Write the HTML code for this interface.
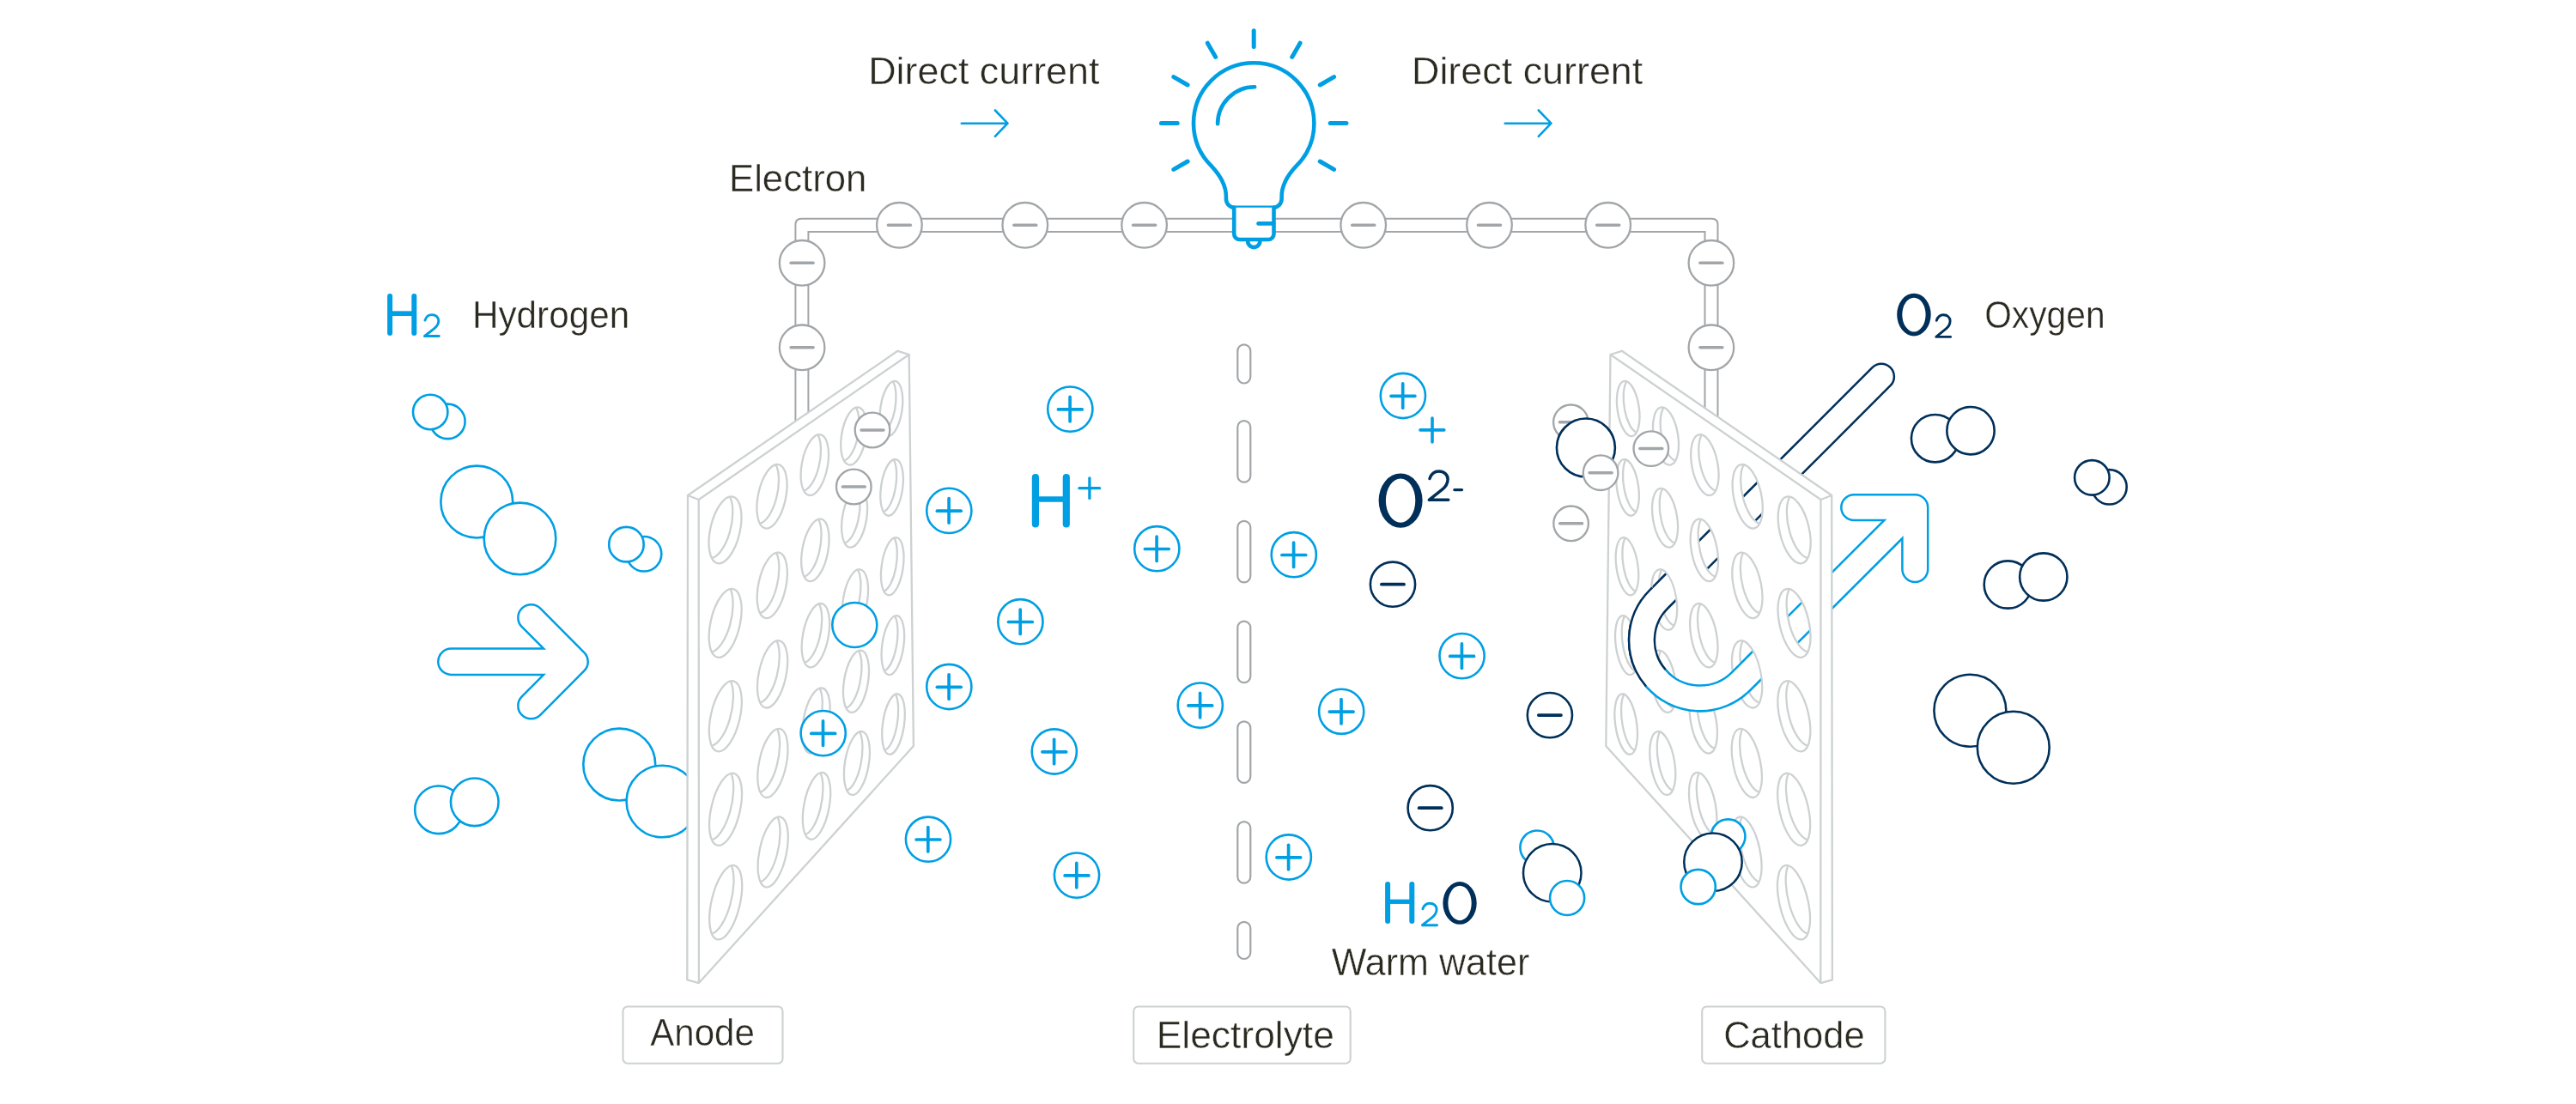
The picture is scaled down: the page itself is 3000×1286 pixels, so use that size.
<!DOCTYPE html>
<html><head><meta charset="utf-8"><title>Fuel cell</title>
<style>html,body{margin:0;padding:0;background:#fff;overflow:hidden;}svg{display:block;will-change:transform;}text{font-family:"Liberation Sans",sans-serif;}</style>
</head><body>
<svg width="3000" height="1286" viewBox="0 0 3000 1286">
<defs><mask id="cmask" maskUnits="userSpaceOnUse" x="0" y="0" width="3000" height="1286"><rect x="0" y="0" width="3000" height="1286" fill="#fff"/><polygon fill="#000" points="2084.24,579.68 2085.37,580.01 2086.53,580.5 2087.7,581.14 2088.87,581.95 2090.05,582.9 2091.23,584 2092.4,585.25 2093.56,586.63 2094.71,588.14 2095.83,589.78 2096.93,591.54 2097.99,593.41 2099.02,595.38 2100.01,597.44 2100.96,599.59 2101.85,601.82 2102.7,604.11 2103.49,606.46 2104.22,608.86 2104.89,611.29 2105.49,613.75 2106.03,616.23 2106.49,618.71 2106.89,621.19 2107.21,623.64 2107.45,626.08 2107.62,628.47 2107.72,630.82 2107.73,633.11 2107.67,635.33 2107.53,637.48 2107.32,639.54 2107.03,641.5 2106.66,643.36 2106.23,645.12 2105.72,646.75 2105.14,648.25 2104.5,649.63 2104.44,649.73 2104.14,649.65 2102.92,649.15 2101.68,648.5 2100.44,647.68 2099.2,646.71 2097.96,645.59 2096.73,644.32 2095.51,642.91 2094.31,641.36 2093.13,639.69 2091.98,637.89 2090.87,635.98 2089.79,633.96 2088.76,631.85 2087.77,629.64 2086.84,627.36 2085.96,625.01 2085.14,622.6 2084.39,620.15 2083.7,617.65 2083.08,615.13 2082.53,612.59 2082.05,610.04 2081.66,607.5 2081.34,604.98 2081.09,602.48 2080.93,600.02 2080.85,597.61 2080.86,595.25 2080.94,592.97 2081.1,590.76 2081.35,588.65 2081.67,586.62 2082.07,584.71 2082.55,582.9 2083.1,581.22 2083.72,579.67 2083.75,579.61"/><polygon fill="#000" points="2083.79,687.06 2084.92,687.41 2086.07,687.92 2087.23,688.59 2088.41,689.43 2089.59,690.42 2090.77,691.56 2091.94,692.85 2093.11,694.27 2094.26,695.84 2095.39,697.53 2096.49,699.35 2097.56,701.27 2098.6,703.31 2099.6,705.43 2100.56,707.65 2101.47,709.95 2102.33,712.31 2103.13,714.73 2103.88,717.2 2104.56,719.7 2105.18,722.24 2105.73,724.78 2106.22,727.33 2106.63,729.88 2106.97,732.41 2107.23,734.91 2107.42,737.37 2107.53,739.78 2107.57,742.13 2107.52,744.42 2107.4,746.62 2107.21,748.73 2106.93,750.75 2106.59,752.66 2106.17,754.45 2105.68,756.13 2105.12,757.67 2104.49,759.08 2104.44,759.16 2104.13,759.06 2102.91,758.55 2101.68,757.87 2100.44,757.02 2099.2,756.01 2097.96,754.85 2096.72,753.54 2095.5,752.08 2094.29,750.48 2093.11,748.75 2091.96,746.9 2090.83,744.93 2089.75,742.85 2088.71,740.67 2087.71,738.4 2086.76,736.05 2085.87,733.63 2085.04,731.16 2084.27,728.63 2083.56,726.06 2082.93,723.46 2082.36,720.85 2081.87,718.24 2081.45,715.62 2081.11,713.03 2080.85,710.47 2080.68,707.94 2080.58,705.46 2080.56,703.05 2080.62,700.7 2080.77,698.44 2080.99,696.27 2081.3,694.19 2081.68,692.23 2082.14,690.38 2082.68,688.66 2083.28,687.07 2083.32,686.99"/><polygon fill="#000" points="2083.34,794.44 2084.46,794.81 2085.61,795.34 2086.77,796.04 2087.94,796.91 2089.12,797.93 2090.31,799.11 2091.48,800.45 2092.65,801.92 2093.8,803.54 2094.94,805.28 2096.05,807.15 2097.13,809.14 2098.18,811.24 2099.19,813.43 2100.16,815.71 2101.08,818.08 2101.95,820.51 2102.77,823 2103.53,825.54 2104.23,828.11 2104.86,830.72 2105.43,833.34 2105.93,835.96 2106.36,838.58 2106.72,841.17 2107,843.74 2107.21,846.27 2107.34,848.75 2107.39,851.16 2107.37,853.5 2107.27,855.76 2107.09,857.93 2106.84,860 2106.51,861.95 2106.11,863.79 2105.63,865.51 2105.09,867.08 2104.48,868.52 2104.45,868.58 2104.12,868.48 2102.91,867.95 2101.68,867.24 2100.44,866.36 2099.2,865.32 2097.96,864.11 2096.72,862.76 2095.49,861.25 2094.28,859.6 2093.09,857.82 2091.93,855.91 2090.8,853.88 2089.71,851.74 2088.65,849.5 2087.65,847.16 2086.69,844.74 2085.78,842.26 2084.94,839.71 2084.15,837.11 2083.43,834.47 2082.78,831.8 2082.19,829.12 2081.69,826.43 2081.25,823.75 2080.89,821.09 2080.62,818.45 2080.42,815.86 2080.3,813.32 2080.26,810.84 2080.31,808.44 2080.44,806.12 2080.64,803.89 2080.93,801.77 2081.29,799.75 2081.74,797.86 2082.25,796.1 2082.84,794.48 2082.89,794.37"/><polygon fill="#000" points="2082.88,901.83 2084,902.21 2085.15,902.77 2086.31,903.5 2087.48,904.39 2088.66,905.45 2089.84,906.67 2091.02,908.05 2092.19,909.57 2093.34,911.24 2094.48,913.04 2095.6,914.96 2096.69,917.01 2097.75,919.17 2098.77,921.43 2099.75,923.78 2100.68,926.21 2101.57,928.71 2102.4,931.27 2103.17,933.88 2103.89,936.53 2104.54,939.2 2105.13,941.89 2105.65,944.59 2106.09,947.27 2106.47,949.94 2106.77,952.58 2107,955.17 2107.14,957.71 2107.22,960.19 2107.21,962.59 2107.13,964.91 2106.97,967.13 2106.74,969.25 2106.43,971.25 2106.04,973.13 2105.59,974.89 2105.06,976.5 2104.46,977.97 2104.44,978.01 2104.1,977.9 2102.9,977.34 2101.67,976.6 2100.44,975.7 2099.2,974.62 2097.95,973.38 2096.71,971.98 2095.48,970.42 2094.27,968.73 2093.08,966.89 2091.91,964.92 2090.77,962.83 2089.67,960.63 2088.6,958.32 2087.58,955.92 2086.61,953.43 2085.7,950.88 2084.83,948.26 2084.03,945.59 2083.3,942.87 2082.63,940.14 2082.03,937.38 2081.5,934.62 2081.05,931.87 2080.68,929.14 2080.38,926.44 2080.16,923.78 2080.03,921.17 2079.97,918.63 2080,916.17 2080.1,913.79 2080.29,911.51 2080.56,909.34 2080.91,907.28 2081.33,905.34 2081.83,903.54 2082.4,901.88 2082.46,901.75"/><polygon fill="#000" points="2082.43,1009.21 2083.55,1009.61 2084.68,1010.19 2085.84,1010.95 2087.01,1011.88 2088.19,1012.97 2089.37,1014.23 2090.55,1015.65 2091.72,1017.22 2092.88,1018.94 2094.03,1020.79 2095.15,1022.78 2096.25,1024.88 2097.31,1027.1 2098.34,1029.42 2099.33,1031.84 2100.28,1034.34 2101.18,1036.91 2102.02,1039.54 2102.81,1042.22 2103.54,1044.94 2104.21,1047.69 2104.82,1050.45 2105.35,1053.21 2105.82,1055.97 2106.21,1058.71 2106.53,1061.41 2106.78,1064.07 2106.94,1066.68 2107.04,1069.22 2107.05,1071.68 2106.99,1074.05 2106.85,1076.33 2106.63,1078.5 2106.34,1080.55 2105.97,1082.47 2105.54,1084.27 2105.03,1085.92 2104.45,1087.42 2104.44,1087.44 2104.09,1087.32 2102.89,1086.74 2101.67,1085.97 2100.43,1085.03 2099.19,1083.92 2097.95,1082.64 2096.71,1081.19 2095.48,1079.59 2094.26,1077.85 2093.06,1075.95 2091.88,1073.93 2090.74,1071.78 2089.63,1069.52 2088.55,1067.14 2087.52,1064.68 2086.54,1062.12 2085.61,1059.5 2084.73,1056.81 2083.92,1054.06 2083.17,1051.28 2082.48,1048.47 2081.87,1045.65 2081.32,1042.82 2080.85,1039.99 2080.46,1037.19 2080.14,1034.42 2079.91,1031.7 2079.75,1029.03 2079.68,1026.43 2079.68,1023.9 2079.77,1021.47 2079.94,1019.13 2080.19,1016.91 2080.52,1014.8 2080.92,1012.83 2081.41,1010.98 2081.96,1009.29 2082.03,1009.13"/><polygon fill="#000" points="2030.68,542.22 2031.74,542.56 2032.81,543.05 2033.89,543.69 2034.98,544.49 2036.06,545.42 2037.15,546.5 2038.22,547.72 2039.29,549.06 2040.33,550.53 2041.36,552.12 2042.35,553.82 2043.32,555.63 2044.25,557.53 2045.15,559.52 2046,561.6 2046.8,563.74 2047.56,565.95 2048.26,568.21 2048.9,570.51 2049.49,572.85 2050.02,575.2 2050.48,577.58 2050.88,579.95 2051.21,582.32 2051.47,584.67 2051.66,587 2051.78,589.28 2051.83,591.52 2051.81,593.71 2051.72,595.82 2051.56,597.87 2051.32,599.82 2051.02,601.69 2050.65,603.46 2050.22,605.12 2049.72,606.66 2049.15,608.08 2048.53,609.38 2048.46,609.49 2048.23,609.42 2047.09,608.92 2045.94,608.26 2044.79,607.46 2043.64,606.5 2042.5,605.4 2041.36,604.16 2040.24,602.78 2039.14,601.28 2038.06,599.65 2037.01,597.91 2036,596.06 2035.02,594.11 2034.08,592.07 2033.19,589.94 2032.36,587.74 2031.57,585.48 2030.84,583.16 2030.17,580.8 2029.56,578.4 2029.02,575.97 2028.55,573.54 2028.14,571.1 2027.81,568.66 2027.55,566.25 2027.37,563.86 2027.25,561.51 2027.22,559.2 2027.26,556.96 2027.37,554.78 2027.56,552.67 2027.82,550.66 2028.16,548.74 2028.57,546.92 2029.04,545.21 2029.59,543.62 2030.2,542.15 2030.21,542.13"/><polygon fill="#000" points="2030.17,644.83 2031.22,645.19 2032.29,645.7 2033.37,646.37 2034.46,647.19 2035.55,648.15 2036.63,649.26 2037.71,650.52 2038.78,651.9 2039.83,653.41 2040.86,655.05 2041.86,656.8 2042.83,658.65 2043.77,660.61 2044.67,662.66 2045.53,664.78 2046.35,666.99 2047.11,669.25 2047.83,671.57 2048.48,673.93 2049.08,676.33 2049.62,678.75 2050.1,681.18 2050.51,683.62 2050.85,686.05 2051.12,688.46 2051.33,690.84 2051.47,693.18 2051.53,695.48 2051.52,697.71 2051.45,699.88 2051.3,701.97 2051.08,703.98 2050.79,705.89 2050.43,707.69 2050.01,709.39 2049.52,710.97 2048.97,712.42 2048.36,713.74 2048.31,713.84 2048.06,713.76 2046.92,713.24 2045.78,712.57 2044.63,711.73 2043.48,710.75 2042.33,709.61 2041.19,708.34 2040.07,706.92 2038.96,705.37 2037.88,703.7 2036.83,701.91 2035.8,700.01 2034.82,698.01 2033.88,695.91 2032.98,693.73 2032.13,691.47 2031.33,689.15 2030.59,686.77 2029.91,684.35 2029.29,681.89 2028.74,679.41 2028.25,676.91 2027.83,674.41 2027.49,671.91 2027.21,669.44 2027.01,666.99 2026.89,664.58 2026.84,662.22 2026.86,659.92 2026.96,657.69 2027.14,655.54 2027.39,653.48 2027.71,651.52 2028.1,649.66 2028.57,647.91 2029.1,646.28 2029.7,644.78 2029.72,644.75"/><polygon fill="#000" points="2029.66,747.45 2030.71,747.82 2031.78,748.35 2032.85,749.04 2033.94,749.89 2035.03,750.88 2036.12,752.03 2037.2,753.32 2038.27,754.74 2039.32,756.3 2040.35,757.98 2041.36,759.77 2042.34,761.68 2043.29,763.69 2044.2,765.79 2045.07,767.97 2045.89,770.23 2046.67,772.56 2047.39,774.93 2048.06,777.36 2048.67,779.81 2049.22,782.3 2049.71,784.79 2050.13,787.29 2050.49,789.77 2050.78,792.24 2051,794.68 2051.15,797.08 2051.23,799.43 2051.23,801.72 2051.17,803.94 2051.04,806.08 2050.83,808.13 2050.56,810.09 2050.21,811.93 2049.8,813.67 2049.33,815.28 2048.79,816.76 2048.19,818.11 2048.15,818.19 2047.89,818.11 2046.76,817.57 2045.61,816.87 2044.46,816.01 2043.31,814.99 2042.16,813.83 2041.02,812.51 2039.9,811.06 2038.79,809.47 2037.7,807.75 2036.64,805.91 2035.61,803.96 2034.62,801.91 2033.67,799.76 2032.76,797.52 2031.9,795.2 2031.1,792.82 2030.34,790.39 2029.65,787.9 2029.02,785.38 2028.45,782.84 2027.95,780.28 2027.52,777.72 2027.16,775.16 2026.88,772.63 2026.66,770.12 2026.52,767.66 2026.46,765.25 2026.47,762.89 2026.55,760.61 2026.72,758.41 2026.95,756.3 2027.26,754.3 2027.64,752.39 2028.09,750.61 2028.61,748.95 2029.19,747.42 2029.22,747.36"/><polygon fill="#000" points="2029.15,850.07 2030.19,850.45 2031.26,851 2032.33,851.72 2033.42,852.59 2034.51,853.61 2035.6,854.79 2036.68,856.12 2037.75,857.58 2038.81,859.18 2039.85,860.9 2040.86,862.75 2041.85,864.71 2042.8,866.77 2043.72,868.92 2044.6,871.16 2045.43,873.48 2046.22,875.86 2046.95,878.3 2047.63,880.78 2048.25,883.3 2048.82,885.84 2049.32,888.4 2049.76,890.95 2050.13,893.5 2050.43,896.03 2050.66,898.53 2050.83,900.98 2050.92,903.39 2050.94,905.73 2050.89,908 2050.77,910.19 2050.58,912.29 2050.32,914.28 2049.99,916.17 2049.6,917.94 2049.13,919.59 2048.61,921.1 2048.02,922.48 2047.99,922.55 2047.72,922.45 2046.59,921.9 2045.45,921.17 2044.3,920.29 2043.15,919.24 2042,918.04 2040.85,916.69 2039.72,915.2 2038.61,913.56 2037.52,911.8 2036.45,909.92 2035.42,907.91 2034.42,905.81 2033.46,903.6 2032.54,901.31 2031.68,898.94 2030.86,896.5 2030.1,894 2029.39,891.45 2028.75,888.87 2028.17,886.27 2027.66,883.65 2027.21,881.03 2026.84,878.41 2026.54,875.82 2026.31,873.26 2026.16,870.74 2026.08,868.27 2026.08,865.86 2026.15,863.53 2026.29,861.28 2026.51,859.13 2026.81,857.07 2027.18,855.13 2027.61,853.31 2028.12,851.62 2028.69,850.06 2028.73,849.98"/><polygon fill="#000" points="2028.64,952.68 2029.68,953.09 2030.74,953.65 2031.81,954.39 2032.9,955.29 2033.99,956.34 2035.08,957.56 2036.16,958.92 2037.24,960.42 2038.3,962.06 2039.34,963.83 2040.36,965.73 2041.35,967.73 2042.31,969.85 2043.24,972.05 2044.12,974.35 2044.97,976.73 2045.76,979.17 2046.51,981.66 2047.2,984.21 2047.83,986.79 2048.41,989.39 2048.93,992.01 2049.38,994.62 2049.76,997.23 2050.08,999.82 2050.33,1002.37 2050.5,1004.89 2050.61,1007.34 2050.65,1009.74 2050.61,1012.06 2050.51,1014.3 2050.33,1016.44 2050.08,1018.48 2049.77,1020.41 2049.39,1022.22 2048.94,1023.9 2048.42,1025.44 2047.85,1026.85 2047.82,1026.9 2047.54,1026.8 2046.42,1026.22 2045.28,1025.48 2044.13,1024.56 2042.98,1023.49 2041.83,1022.25 2040.69,1020.87 2039.55,1019.33 2038.44,1017.66 2037.34,1015.85 2036.27,1013.92 2035.23,1011.86 2034.22,1009.7 2033.25,1007.44 2032.33,1005.1 2031.45,1002.67 2030.62,1000.17 2029.85,997.61 2029.14,995.01 2028.48,992.36 2027.89,989.7 2027.36,987.02 2026.91,984.34 2026.52,981.66 2026.2,979.01 2025.96,976.39 2025.79,973.81 2025.7,971.29 2025.68,968.83 2025.74,966.45 2025.87,964.15 2026.08,961.95 2026.36,959.85 2026.71,957.87 2027.14,956.01 2027.63,954.28 2028.19,952.69 2028.23,952.59"/><polygon fill="#000" points="1981.73,507.44 1982.71,507.79 1983.69,508.28 1984.68,508.91 1985.68,509.68 1986.68,510.59 1987.67,511.63 1988.65,512.8 1989.61,514.09 1990.56,515.5 1991.49,517.02 1992.39,518.65 1993.26,520.37 1994.09,522.19 1994.89,524.09 1995.65,526.07 1996.37,528.11 1997.03,530.21 1997.65,532.35 1998.22,534.54 1998.73,536.76 1999.18,539 1999.58,541.25 1999.91,543.5 2000.18,545.74 2000.39,547.96 2000.53,550.16 2000.61,552.32 2000.63,554.44 2000.58,556.5 2000.46,558.49 2000.28,560.42 2000.04,562.26 1999.73,564.02 1999.36,565.68 1998.93,567.23 1998.45,568.68 1997.9,570.01 1997.31,571.22 1997.23,571.35 1997.06,571.29 1996.01,570.8 1994.96,570.15 1993.9,569.37 1992.84,568.44 1991.79,567.37 1990.75,566.18 1989.72,564.85 1988.72,563.41 1987.74,561.85 1986.79,560.18 1985.87,558.41 1984.99,556.54 1984.15,554.59 1983.36,552.56 1982.61,550.47 1981.91,548.31 1981.27,546.1 1980.68,543.85 1980.15,541.57 1979.68,539.27 1979.28,536.96 1978.94,534.64 1978.66,532.33 1978.46,530.04 1978.32,527.78 1978.25,525.56 1978.25,523.38 1978.32,521.25 1978.46,519.2 1978.67,517.21 1978.95,515.31 1979.29,513.5 1979.7,511.79 1980.17,510.18 1980.7,508.69 1981.27,507.35"/><polygon fill="#000" points="1981,605.86 1981.97,606.22 1982.95,606.73 1983.95,607.38 1984.94,608.17 1985.94,609.11 1986.93,610.18 1987.91,611.39 1988.88,612.72 1989.84,614.17 1990.77,615.74 1991.67,617.41 1992.55,619.18 1993.39,621.05 1994.2,623 1994.96,625.03 1995.69,627.13 1996.36,629.29 1996.99,631.49 1997.57,633.74 1998.09,636.01 1998.55,638.31 1998.96,640.62 1999.3,642.93 1999.59,645.23 1999.81,647.51 1999.96,649.77 2000.06,651.98 2000.08,654.15 2000.04,656.26 1999.94,658.31 1999.77,660.28 1999.54,662.17 1999.24,663.97 1998.89,665.67 1998.47,667.26 1997.99,668.74 1997.46,670.1 1996.88,671.33 1996.81,671.45 1996.63,671.39 1995.58,670.87 1994.53,670.21 1993.47,669.4 1992.41,668.44 1991.35,667.34 1990.31,666.11 1989.29,664.75 1988.28,663.26 1987.3,661.66 1986.34,659.94 1985.42,658.12 1984.53,656.21 1983.68,654.2 1982.88,652.12 1982.12,649.97 1981.41,647.76 1980.76,645.49 1980.16,643.18 1979.62,640.84 1979.14,638.48 1978.73,636.11 1978.37,633.73 1978.09,631.37 1977.87,629.02 1977.72,626.7 1977.64,624.42 1977.63,622.19 1977.69,620.01 1977.82,617.91 1978.01,615.88 1978.28,613.93 1978.61,612.08 1979,610.33 1979.46,608.68 1979.98,607.16 1980.56,605.76"/><polygon fill="#000" points="1980.26,704.28 1981.23,704.65 1982.22,705.17 1983.21,705.85 1984.2,706.67 1985.2,707.64 1986.19,708.74 1987.18,709.98 1988.15,711.35 1989.11,712.84 1990.04,714.45 1990.95,716.17 1991.84,718 1992.69,719.91 1993.5,721.92 1994.27,724 1995.01,726.15 1995.69,728.37 1996.33,730.63 1996.92,732.93 1997.45,735.27 1997.92,737.63 1998.34,739.99 1998.7,742.36 1998.99,744.72 1999.22,747.06 1999.39,749.37 1999.5,751.64 1999.54,753.86 1999.51,756.03 1999.42,758.12 1999.26,760.14 1999.04,762.08 1998.76,763.92 1998.41,765.66 1998.01,767.28 1997.54,768.8 1997.02,770.19 1996.45,771.45 1996.39,771.55 1996.2,771.48 1995.15,770.95 1994.1,770.26 1993.04,769.43 1991.98,768.44 1990.92,767.31 1989.88,766.05 1988.85,764.64 1987.84,763.12 1986.85,761.47 1985.89,759.71 1984.96,757.84 1984.07,755.87 1983.21,753.82 1982.4,751.68 1981.63,749.47 1980.92,747.2 1980.25,744.88 1979.64,742.51 1979.09,740.11 1978.6,737.69 1978.18,735.26 1977.81,732.83 1977.52,730.4 1977.29,728 1977.13,725.62 1977.03,723.29 1977.01,721 1977.06,718.77 1977.17,716.62 1977.35,714.54 1977.61,712.55 1977.92,710.65 1978.31,708.86 1978.76,707.18 1979.27,705.62 1979.84,704.19 1979.84,704.18"/><polygon fill="#000" points="1979.53,802.69 1980.5,803.08 1981.48,803.62 1982.47,804.32 1983.46,805.17 1984.46,806.16 1985.46,807.3 1986.44,808.57 1987.42,809.98 1988.38,811.52 1989.32,813.17 1990.23,814.93 1991.12,816.81 1991.98,818.78 1992.8,820.83 1993.58,822.97 1994.32,825.18 1995.02,827.45 1995.66,829.77 1996.26,832.13 1996.8,834.53 1997.29,836.94 1997.72,839.37 1998.09,841.8 1998.39,844.21 1998.64,846.61 1998.82,848.98 1998.94,851.3 1998.99,853.58 1998.97,855.79 1998.89,857.94 1998.75,860.01 1998.54,861.98 1998.27,863.87 1997.94,865.65 1997.54,867.31 1997.09,868.86 1996.58,870.28 1996.01,871.57 1995.97,871.65 1995.77,871.58 1994.72,871.03 1993.66,870.32 1992.61,869.46 1991.55,868.44 1990.49,867.28 1989.44,865.98 1988.41,864.54 1987.4,862.97 1986.4,861.28 1985.44,859.47 1984.5,857.55 1983.6,855.54 1982.74,853.43 1981.92,851.24 1981.15,848.97 1980.42,846.65 1979.75,844.26 1979.13,841.84 1978.57,839.38 1978.07,836.9 1977.63,834.41 1977.25,831.92 1976.94,829.44 1976.7,826.97 1976.53,824.54 1976.42,822.15 1976.39,819.81 1976.42,817.54 1976.52,815.33 1976.7,813.2 1976.94,811.17 1977.24,809.23 1977.61,807.4 1978.05,805.68 1978.55,804.09 1979.11,802.62 1979.12,802.59"/><polygon fill="#000" points="1978.8,901.11 1979.76,901.51 1980.74,902.07 1981.73,902.79 1982.72,903.66 1983.72,904.69 1984.72,905.86 1985.71,907.17 1986.68,908.61 1987.65,910.19 1988.59,911.89 1989.51,913.7 1990.41,915.62 1991.27,917.64 1992.1,919.75 1992.89,921.94 1993.64,924.2 1994.34,926.53 1995,928.91 1995.6,931.33 1996.16,933.78 1996.65,936.26 1997.09,938.74 1997.47,941.23 1997.79,943.7 1998.05,946.16 1998.24,948.58 1998.37,950.96 1998.44,953.29 1998.43,955.56 1998.37,957.75 1998.24,959.87 1998.04,961.89 1997.78,963.82 1997.46,965.64 1997.07,967.34 1996.63,968.92 1996.13,970.37 1995.58,971.69 1995.54,971.75 1995.33,971.67 1994.29,971.1 1993.23,970.37 1992.17,969.48 1991.11,968.44 1990.06,967.25 1989.01,965.91 1987.97,964.43 1986.96,962.82 1985.96,961.09 1984.99,959.23 1984.05,957.27 1983.14,955.2 1982.27,953.04 1981.44,950.79 1980.66,948.47 1979.92,946.09 1979.24,943.65 1978.61,941.17 1978.04,938.65 1977.53,936.11 1977.08,933.56 1976.69,931.01 1976.37,928.47 1976.12,925.95 1975.93,923.46 1975.82,921.02 1975.77,918.63 1975.79,916.3 1975.88,914.04 1976.04,911.87 1976.27,909.79 1976.56,907.81 1976.92,905.93 1977.35,904.18 1977.83,902.55 1978.38,901.06 1978.4,901.01"/><polygon fill="#000" points="1937.31,475.68 1938.21,476.02 1939.12,476.51 1940.04,477.13 1940.96,477.88 1941.87,478.76 1942.78,479.77 1943.67,480.89 1944.55,482.14 1945.41,483.49 1946.24,484.95 1947.05,486.51 1947.83,488.16 1948.57,489.89 1949.28,491.7 1949.95,493.59 1950.57,495.53 1951.15,497.53 1951.68,499.57 1952.17,501.65 1952.6,503.75 1952.97,505.88 1953.29,508.01 1953.56,510.14 1953.76,512.26 1953.91,514.37 1954,516.45 1954.02,518.49 1953.99,520.48 1953.9,522.43 1953.75,524.31 1953.54,526.12 1953.27,527.85 1952.94,529.5 1952.56,531.06 1952.12,532.52 1951.64,533.87 1951.1,535.11 1950.52,536.24 1950.42,536.39 1950.32,536.35 1949.34,535.86 1948.36,535.22 1947.38,534.45 1946.4,533.55 1945.44,532.52 1944.48,531.36 1943.55,530.09 1942.64,528.7 1941.75,527.2 1940.89,525.6 1940.07,523.9 1939.28,522.12 1938.54,520.25 1937.83,518.32 1937.17,516.32 1936.56,514.26 1936.01,512.16 1935.5,510.02 1935.06,507.85 1934.67,505.66 1934.34,503.47 1934.07,501.27 1933.87,499.08 1933.72,496.91 1933.64,494.77 1933.63,492.66 1933.68,490.6 1933.79,488.6 1933.97,486.65 1934.21,484.78 1934.51,482.99 1934.88,481.29 1935.3,479.68 1935.77,478.17 1936.31,476.77 1936.86,475.57"/><polygon fill="#000" points="1936.23,570.09 1937.14,570.45 1938.05,570.95 1938.97,571.59 1939.88,572.37 1940.8,573.28 1941.71,574.31 1942.6,575.47 1943.48,576.75 1944.34,578.15 1945.18,579.65 1945.99,581.25 1946.78,582.94 1947.53,584.72 1948.24,586.59 1948.92,588.52 1949.55,590.51 1950.14,592.57 1950.68,594.66 1951.17,596.79 1951.61,598.96 1951.99,601.13 1952.32,603.32 1952.6,605.51 1952.81,607.69 1952.97,609.85 1953.06,611.98 1953.1,614.07 1953.08,616.12 1953,618.11 1952.85,620.04 1952.65,621.9 1952.39,623.67 1952.07,625.36 1951.7,626.96 1951.28,628.45 1950.8,629.84 1950.27,631.11 1949.69,632.26 1949.61,632.39 1949.49,632.35 1948.51,631.84 1947.53,631.18 1946.55,630.39 1945.58,629.46 1944.61,628.4 1943.65,627.21 1942.72,625.9 1941.8,624.47 1940.91,622.93 1940.05,621.29 1939.22,619.54 1938.43,617.71 1937.67,615.8 1936.96,613.81 1936.3,611.76 1935.68,609.65 1935.11,607.49 1934.6,605.3 1934.15,603.07 1933.75,600.83 1933.41,598.58 1933.13,596.32 1932.92,594.08 1932.77,591.86 1932.68,589.66 1932.65,587.5 1932.69,585.39 1932.8,583.34 1932.97,581.35 1933.2,579.43 1933.49,577.6 1933.84,575.86 1934.25,574.21 1934.72,572.67 1935.25,571.24 1935.8,569.98"/><polygon fill="#000" points="1935.16,664.51 1936.06,664.88 1936.97,665.4 1937.89,666.06 1938.81,666.86 1939.72,667.79 1940.63,668.86 1941.53,670.05 1942.41,671.37 1943.28,672.8 1944.12,674.34 1944.94,675.99 1945.73,677.73 1946.48,679.56 1947.2,681.47 1947.88,683.45 1948.52,685.5 1949.12,687.6 1949.67,689.75 1950.17,691.94 1950.62,694.16 1951.01,696.39 1951.35,698.64 1951.63,700.88 1951.86,703.11 1952.02,705.33 1952.13,707.51 1952.18,709.66 1952.16,711.76 1952.09,713.8 1951.96,715.77 1951.77,717.67 1951.52,719.49 1951.21,721.22 1950.84,722.85 1950.43,724.38 1949.96,725.8 1949.44,727.1 1948.87,728.28 1948.8,728.4 1948.67,728.34 1947.69,727.82 1946.71,727.14 1945.73,726.33 1944.75,725.37 1943.78,724.28 1942.83,723.06 1941.89,721.71 1940.97,720.24 1940.07,718.66 1939.2,716.97 1938.37,715.19 1937.57,713.31 1936.81,711.34 1936.09,709.31 1935.42,707.2 1934.8,705.04 1934.22,702.83 1933.7,700.58 1933.24,698.3 1932.83,696 1932.48,693.69 1932.2,691.38 1931.97,689.08 1931.81,686.8 1931.71,684.55 1931.68,682.34 1931.71,680.18 1931.8,678.08 1931.96,676.04 1932.18,674.08 1932.46,672.21 1932.81,670.42 1933.21,668.74 1933.67,667.16 1934.19,665.7 1934.74,664.4"/><polygon fill="#000" points="1934.09,758.92 1934.99,759.31 1935.9,759.85 1936.81,760.53 1937.73,761.35 1938.65,762.31 1939.56,763.41 1940.46,764.63 1941.34,765.98 1942.21,767.45 1943.06,769.04 1943.88,770.72 1944.68,772.51 1945.44,774.39 1946.16,776.35 1946.85,778.38 1947.5,780.48 1948.1,782.64 1948.66,784.85 1949.17,787.09 1949.62,789.36 1950.03,791.65 1950.37,793.95 1950.67,796.25 1950.9,798.54 1951.08,800.81 1951.19,803.05 1951.25,805.24 1951.25,807.39 1951.18,809.48 1951.06,811.5 1950.88,813.45 1950.64,815.31 1950.34,817.08 1949.99,818.75 1949.58,820.31 1949.11,821.76 1948.6,823.09 1948.04,824.3 1947.98,824.4 1947.84,824.34 1946.86,823.8 1945.88,823.1 1944.9,822.26 1943.92,821.28 1942.95,820.16 1942,818.91 1941.05,817.52 1940.13,816.02 1939.23,814.39 1938.36,812.66 1937.52,810.83 1936.71,808.9 1935.95,806.89 1935.22,804.8 1934.54,802.64 1933.91,800.43 1933.33,798.16 1932.8,795.85 1932.33,793.52 1931.91,791.16 1931.56,788.8 1931.26,786.44 1931.03,784.08 1930.85,781.75 1930.75,779.45 1930.7,777.19 1930.72,774.97 1930.81,772.82 1930.95,770.74 1931.17,768.73 1931.44,766.82 1931.77,764.99 1932.17,763.27 1932.62,761.66 1933.13,760.16 1933.68,758.81"/><polygon fill="#000" points="1933.01,853.34 1933.91,853.74 1934.82,854.29 1935.74,854.99 1936.66,855.84 1937.57,856.83 1938.48,857.95 1939.39,859.21 1940.27,860.6 1941.15,862.11 1942,863.73 1942.82,865.46 1943.62,867.3 1944.39,869.22 1945.12,871.23 1945.82,873.32 1946.47,875.47 1947.08,877.68 1947.65,879.94 1948.16,882.24 1948.63,884.57 1949.04,886.91 1949.4,889.27 1949.7,891.62 1949.94,893.97 1950.13,896.29 1950.26,898.58 1950.32,900.83 1950.33,903.03 1950.28,905.17 1950.16,907.24 1949.99,909.23 1949.76,911.13 1949.47,912.94 1949.13,914.65 1948.73,916.25 1948.27,917.73 1947.77,919.09 1947.21,920.32 1947.17,920.4 1947.01,920.34 1946.04,919.78 1945.06,919.06 1944.08,918.2 1943.1,917.19 1942.13,916.04 1941.17,914.75 1940.22,913.33 1939.29,911.79 1938.39,910.12 1937.51,908.35 1936.67,906.47 1935.86,904.5 1935.09,902.43 1934.36,900.29 1933.67,898.08 1933.03,895.81 1932.44,893.49 1931.9,891.13 1931.42,888.74 1931,886.33 1930.63,883.91 1930.32,881.49 1930.08,879.08 1929.9,876.7 1929.78,874.34 1929.73,872.03 1929.74,869.77 1929.81,867.57 1929.95,865.44 1930.15,863.38 1930.42,861.42 1930.74,859.56 1931.13,857.8 1931.57,856.15 1932.07,854.63 1932.62,853.23"/><polygon fill="#000" points="1894.17,445.22 1894.97,445.58 1895.77,446.07 1896.58,446.68 1897.38,447.43 1898.18,448.29 1898.97,449.27 1899.75,450.37 1900.52,451.58 1901.26,452.89 1901.99,454.3 1902.68,455.81 1903.36,457.4 1904,459.07 1904.6,460.81 1905.18,462.62 1905.71,464.48 1906.2,466.4 1906.65,468.35 1907.06,470.34 1907.41,472.35 1907.72,474.38 1907.98,476.42 1908.19,478.45 1908.35,480.47 1908.46,482.47 1908.52,484.45 1908.52,486.39 1908.47,488.29 1908.36,490.13 1908.21,491.91 1908,493.62 1907.74,495.26 1907.44,496.82 1907.08,498.29 1906.68,499.66 1906.23,500.93 1905.74,502.09 1905.21,503.14 1905.12,503.29 1905.09,503.27 1904.22,502.78 1903.35,502.14 1902.48,501.38 1901.62,500.5 1900.77,499.49 1899.93,498.36 1899.11,497.12 1898.31,495.77 1897.53,494.32 1896.79,492.77 1896.07,491.13 1895.39,489.41 1894.74,487.61 1894.14,485.75 1893.57,483.83 1893.05,481.85 1892.58,479.84 1892.15,477.79 1891.78,475.71 1891.46,473.62 1891.19,471.52 1890.98,469.42 1890.82,467.33 1890.72,465.26 1890.68,463.22 1890.69,461.22 1890.76,459.26 1890.88,457.36 1891.07,455.51 1891.3,453.74 1891.59,452.05 1891.94,450.44 1892.34,448.92 1892.78,447.5 1893.28,446.19 1893.76,445.1"/><polygon fill="#000" points="1893.42,536.32 1894.22,536.69 1895.03,537.2 1895.83,537.83 1896.64,538.6 1897.44,539.48 1898.23,540.5 1899.01,541.62 1899.78,542.86 1900.53,544.21 1901.26,545.66 1901.96,547.21 1902.64,548.84 1903.28,550.55 1903.89,552.34 1904.47,554.2 1905.01,556.11 1905.51,558.07 1905.96,560.08 1906.38,562.12 1906.74,564.18 1907.06,566.26 1907.33,568.35 1907.54,570.43 1907.71,572.51 1907.83,574.56 1907.89,576.58 1907.9,578.57 1907.85,580.51 1907.76,582.4 1907.61,584.23 1907.41,585.98 1907.16,587.66 1906.86,589.26 1906.51,590.76 1906.12,592.16 1905.68,593.46 1905.19,594.65 1904.67,595.73 1904.59,595.86 1904.54,595.84 1903.67,595.33 1902.8,594.68 1901.93,593.89 1901.07,592.98 1900.22,591.94 1899.38,590.79 1898.56,589.51 1897.75,588.13 1896.98,586.64 1896.23,585.05 1895.5,583.37 1894.82,581.6 1894.17,579.76 1893.55,577.85 1892.98,575.88 1892.46,573.86 1891.98,571.79 1891.55,569.69 1891.17,567.56 1890.84,565.42 1890.56,563.27 1890.34,561.12 1890.18,558.98 1890.07,556.86 1890.02,554.77 1890.02,552.72 1890.08,550.71 1890.2,548.76 1890.38,546.88 1890.61,545.06 1890.89,543.33 1891.23,541.68 1891.62,540.13 1892.06,538.68 1892.54,537.33 1893.03,536.2"/><polygon fill="#000" points="1892.68,627.42 1893.48,627.81 1894.28,628.33 1895.09,628.98 1895.9,629.77 1896.7,630.68 1897.49,631.72 1898.28,632.88 1899.05,634.15 1899.8,635.53 1900.53,637.02 1901.23,638.6 1901.91,640.28 1902.57,642.04 1903.18,643.87 1903.77,645.77 1904.31,647.74 1904.81,649.75 1905.28,651.81 1905.69,653.9 1906.07,656.01 1906.39,658.14 1906.67,660.28 1906.89,662.42 1907.07,664.54 1907.19,666.64 1907.26,668.72 1907.28,670.75 1907.24,672.74 1907.15,674.68 1907.01,676.55 1906.82,678.34 1906.58,680.06 1906.28,681.69 1905.94,683.23 1905.55,684.67 1905.12,686 1904.64,687.21 1904.12,688.31 1904.06,688.43 1904,688.41 1903.13,687.88 1902.26,687.21 1901.39,686.4 1900.53,685.47 1899.67,684.4 1898.83,683.21 1898.01,681.91 1897.2,680.49 1896.42,678.96 1895.66,677.33 1894.94,675.61 1894.25,673.8 1893.59,671.91 1892.97,669.95 1892.4,667.93 1891.86,665.86 1891.38,663.74 1890.94,661.59 1890.55,659.41 1890.22,657.22 1889.93,655.01 1889.71,652.81 1889.53,650.62 1889.42,648.45 1889.36,646.31 1889.35,644.21 1889.41,642.16 1889.52,640.17 1889.69,638.24 1889.91,636.38 1890.19,634.61 1890.52,632.93 1890.9,631.34 1891.33,629.85 1891.81,628.48 1892.3,627.31"/><polygon fill="#000" points="1891.94,718.53 1892.74,718.92 1893.54,719.46 1894.35,720.13 1895.15,720.94 1895.96,721.87 1896.75,722.94 1897.54,724.13 1898.31,725.44 1899.06,726.85 1899.8,728.38 1900.51,730 1901.19,731.72 1901.85,733.52 1902.47,735.4 1903.06,737.35 1903.61,739.36 1904.12,741.43 1904.59,743.53 1905.01,745.67 1905.39,747.84 1905.72,750.02 1906.01,752.21 1906.24,754.4 1906.42,756.58 1906.55,758.73 1906.63,760.85 1906.65,762.94 1906.63,764.97 1906.55,766.95 1906.41,768.86 1906.23,770.7 1905.99,772.46 1905.71,774.13 1905.37,775.7 1904.99,777.17 1904.56,778.53 1904.09,779.77 1903.58,780.9 1903.52,781 1903.45,780.97 1902.58,780.43 1901.71,779.74 1900.84,778.91 1899.98,777.95 1899.12,776.86 1898.28,775.64 1897.45,774.3 1896.65,772.84 1895.86,771.28 1895.1,769.61 1894.37,767.84 1893.67,765.99 1893.01,764.06 1892.39,762.06 1891.81,759.99 1891.27,757.87 1890.78,755.7 1890.33,753.49 1889.94,751.26 1889.6,749.02 1889.31,746.76 1889.07,744.51 1888.89,742.27 1888.77,740.05 1888.7,737.86 1888.69,735.71 1888.73,733.61 1888.84,731.57 1889,729.6 1889.21,727.7 1889.48,725.89 1889.8,724.17 1890.18,722.55 1890.61,721.03 1891.08,719.62 1891.57,718.41"/><polygon fill="#000" points="1891.2,809.63 1891.99,810.04 1892.8,810.59 1893.6,811.28 1894.41,812.11 1895.21,813.07 1896.01,814.16 1896.8,815.38 1897.57,816.72 1898.33,818.18 1899.07,819.74 1899.78,821.4 1900.47,823.16 1901.13,825.01 1901.76,826.93 1902.35,828.93 1902.91,830.99 1903.42,833.1 1903.9,835.26 1904.33,837.45 1904.72,839.67 1905.06,841.9 1905.35,844.15 1905.59,846.38 1905.78,848.61 1905.91,850.81 1906,852.99 1906.03,855.12 1906.01,857.2 1905.94,859.23 1905.81,861.18 1905.64,863.06 1905.41,864.86 1905.13,866.57 1904.8,868.17 1904.43,869.67 1904.01,871.06 1903.54,872.33 1903.04,873.48 1902.99,873.58 1902.91,873.54 1902.04,872.98 1901.17,872.27 1900.3,871.42 1899.43,870.44 1898.58,869.32 1897.73,868.07 1896.9,866.69 1896.09,865.2 1895.3,863.6 1894.54,861.89 1893.81,860.08 1893.1,858.19 1892.44,856.21 1891.81,854.16 1891.22,852.04 1890.68,849.87 1890.18,847.65 1889.73,845.4 1889.33,843.11 1888.98,840.82 1888.68,838.51 1888.44,836.21 1888.25,833.91 1888.12,831.64 1888.04,829.41 1888.02,827.21 1888.06,825.07 1888.16,822.98 1888.31,820.96 1888.51,819.02 1888.78,817.17 1889.09,815.41 1889.46,813.75 1889.88,812.21 1890.35,810.77 1890.84,809.51"/></mask>
<mask id="clipC" maskUnits="userSpaceOnUse" x="0" y="0" width="3000" height="1286"><polygon fill="#fff" points="1788.15,548.5 1983.97,744.32 1988.77,739.52 2184.6,935.35 1700,1200 1600,600"/><ellipse fill="#fff" cx="1938.15" cy="698.5" rx="12.83" ry="34.5" transform="rotate(-9.3 1938.15 698.5)"/><ellipse fill="#fff" cx="2034.6" cy="785.35" rx="14.74" ry="38.66" transform="rotate(-11.8 2034.6 785.35)"/></mask></defs>
<rect x="0" y="0" width="3000" height="1286" fill="#fff"/>
<g fill="none" stroke="#a2a6a9" stroke-width="2"><path d="M926.4 493 V261.7 Q926.4 254.7 933.4 254.7 H1993.5 Q2000.5 254.7 2000.5 261.7 V488"/><path d="M941.4 483 V269.9 H1985.5 V478"/></g>
<g fill="#fff" stroke="#009fe3" stroke-width="4.6" stroke-linecap="round" stroke-linejoin="round"><path d="M1410.56 193.14 A70.2 70.2 0 1 1 1509.84 193.14 C1500 203.5 1492.6 215 1492.6 229 V231.7 A10 10 0 0 1 1482.6 241.7 H1437.9 A10 10 0 0 1 1427.9 231.7 V229 C1427.9 215 1420.4 203.5 1410.56 193.14 Z"/></g>
<g fill="none" stroke="#009fe3" stroke-width="4.6" stroke-linecap="round" stroke-linejoin="round"><path d="M1453.5 279 A7.05 7.05 0 1 0 1467 279"/><path fill="#fff" d="M1437.2 241.7 V272.5 A6.5 6.5 0 0 0 1443.7 279 H1477 A6.5 6.5 0 0 0 1483.5 272.5 V241.7"/><path d="M1465.5 260.4 H1483"/><path d="M1418.1 144.3 A43 43 0 0 1 1461.2 101.2"/></g>
<g fill="none" stroke="#009fe3" stroke-width="5.0" stroke-linecap="round" stroke-linejoin="round"><path d="M1460.2 54.5 L1460.2 35.7"/><path d="M1504.7 66.42 L1514.1 50.14"/><path d="M1415.7 66.42 L1406.3 50.14"/><path d="M1537.28 99 L1553.56 89.6"/><path d="M1383.12 99 L1366.84 89.6"/><path d="M1549.2 143.5 L1568 143.5"/><path d="M1371.2 143.5 L1352.4 143.5"/><path d="M1537.28 188 L1553.56 197.4"/><path d="M1383.12 188 L1366.84 197.4"/></g>
<circle cx="934.1" cy="306.3" r="26.3" fill="#fff" stroke="#a2a6a9" stroke-width="2.3"/><line x1="921.1" y1="306.3" x2="947.1" y2="306.3" stroke="#a2a6a9" stroke-width="3.5" stroke-linecap="round"/>
<circle cx="934.1" cy="404.8" r="26.3" fill="#fff" stroke="#a2a6a9" stroke-width="2.3"/><line x1="921.1" y1="404.8" x2="947.1" y2="404.8" stroke="#a2a6a9" stroke-width="3.5" stroke-linecap="round"/>
<circle cx="1047.4" cy="262.3" r="26.3" fill="#fff" stroke="#a2a6a9" stroke-width="2.3"/><line x1="1034.4" y1="262.3" x2="1060.4" y2="262.3" stroke="#a2a6a9" stroke-width="3.5" stroke-linecap="round"/>
<circle cx="1193.8" cy="262.3" r="26.3" fill="#fff" stroke="#a2a6a9" stroke-width="2.3"/><line x1="1180.8" y1="262.3" x2="1206.8" y2="262.3" stroke="#a2a6a9" stroke-width="3.5" stroke-linecap="round"/>
<circle cx="1332.6" cy="262.3" r="26.3" fill="#fff" stroke="#a2a6a9" stroke-width="2.3"/><line x1="1319.6" y1="262.3" x2="1345.6" y2="262.3" stroke="#a2a6a9" stroke-width="3.5" stroke-linecap="round"/>
<circle cx="1587.7" cy="262.3" r="26.3" fill="#fff" stroke="#a2a6a9" stroke-width="2.3"/><line x1="1574.7" y1="262.3" x2="1600.7" y2="262.3" stroke="#a2a6a9" stroke-width="3.5" stroke-linecap="round"/>
<circle cx="1734.5" cy="262.3" r="26.3" fill="#fff" stroke="#a2a6a9" stroke-width="2.3"/><line x1="1721.5" y1="262.3" x2="1747.5" y2="262.3" stroke="#a2a6a9" stroke-width="3.5" stroke-linecap="round"/>
<circle cx="1872.7" cy="262.3" r="26.3" fill="#fff" stroke="#a2a6a9" stroke-width="2.3"/><line x1="1859.7" y1="262.3" x2="1885.7" y2="262.3" stroke="#a2a6a9" stroke-width="3.5" stroke-linecap="round"/>
<circle cx="1992.9" cy="306.3" r="26.3" fill="#fff" stroke="#a2a6a9" stroke-width="2.3"/><line x1="1979.9" y1="306.3" x2="2005.9" y2="306.3" stroke="#a2a6a9" stroke-width="3.5" stroke-linecap="round"/>
<circle cx="1992.9" cy="404.8" r="26.3" fill="#fff" stroke="#a2a6a9" stroke-width="2.3"/><line x1="1979.9" y1="404.8" x2="2005.9" y2="404.8" stroke="#a2a6a9" stroke-width="3.5" stroke-linecap="round"/>
<g fill="none" stroke="#009fe3" stroke-width="2.6" stroke-linecap="round" stroke-linejoin="round"><path d="M1119.8 143.7 H1173.5 M1158.9 128.5 L1173.5 143.7 L1158.9 158.9"/></g>
<g fill="none" stroke="#009fe3" stroke-width="2.6" stroke-linecap="round" stroke-linejoin="round"><path d="M1752.7 143.7 H1806.4 M1791.8 128.5 L1806.4 143.7 L1791.8 158.9"/></g>
<g font-family="Liberation Sans, sans-serif">
<text x="1011.2" y="97.7" font-size="44.5" fill="#2b2a21" stroke="#fff" stroke-width="0.45" textLength="269.3" lengthAdjust="spacingAndGlyphs">Direct current</text>
<text x="1644" y="97.7" font-size="44.5" fill="#2b2a21" stroke="#fff" stroke-width="0.45" textLength="269.3" lengthAdjust="spacingAndGlyphs">Direct current</text>
<text x="849" y="222.8" font-size="44.5" fill="#2b2a21" stroke="#fff" stroke-width="0.45" textLength="160.3" lengthAdjust="spacingAndGlyphs">Electron</text>
<text x="549.9" y="382.1" font-size="44.5" fill="#2b2a21" stroke="#fff" stroke-width="0.45" textLength="183.3" lengthAdjust="spacingAndGlyphs">Hydrogen</text>
<text x="2311.2" y="382" font-size="44.5" fill="#2b2a21" stroke="#fff" stroke-width="0.45" textLength="140.4" lengthAdjust="spacingAndGlyphs">Oxygen</text>
<text x="1550.7" y="1135.6" font-size="44.5" fill="#2b2a21" stroke="#fff" stroke-width="0.45" textLength="230.6" lengthAdjust="spacingAndGlyphs">Warm water</text>
</g>
<line x1="454.1" y1="344.9" x2="454.1" y2="388" stroke="#009fe3" stroke-width="6" stroke-linecap="round"/><line x1="482.3" y1="344.9" x2="482.3" y2="388" stroke="#009fe3" stroke-width="6" stroke-linecap="round"/><line x1="454.1" y1="365.2" x2="482.3" y2="365.2" stroke="#009fe3" stroke-width="5.7" stroke-linecap="butt"/>
<path d="M495 373 C496.5 368.49 499.51 366.6 503 366.6 C507.5 366.6 510.8 369.49 510.8 373.5 C510.8 377.51 508.49 380.49 505.5 382.81 L494.5 391.5 L511.3 391.5" fill="none" stroke="#009fe3" stroke-width="2.9" stroke-linecap="round" stroke-linejoin="round"/>
<path d="M2209.2 366.55 a19.75 24.85 0 1 0 39.5 0 a19.75 24.85 0 1 0 -39.5 0Z M2215.3 366.55 a13.65 19.9 0 1 0 27.3 0 a13.65 19.9 0 1 0 -27.3 0Z" fill="#00305a" fill-rule="evenodd"/>
<path d="M2255.3 373.38 C2256.8 368.75 2259.81 366.8 2263.3 366.8 C2267.8 366.8 2271.1 369.77 2271.1 373.89 C2271.1 378.01 2268.79 381.08 2265.8 383.47 L2254.8 392.4 L2271.6 392.4" fill="none" stroke="#00305a" stroke-width="2.9" stroke-linecap="round" stroke-linejoin="round"/>
<line x1="1205.9" y1="556.2" x2="1205.9" y2="610.5" stroke="#009fe3" stroke-width="8.2" stroke-linecap="round"/><line x1="1241.8" y1="556.2" x2="1241.8" y2="610.5" stroke="#009fe3" stroke-width="8.2" stroke-linecap="round"/><line x1="1205.9" y1="581.6" x2="1241.8" y2="581.6" stroke="#009fe3" stroke-width="6.5" stroke-linecap="butt"/>
<line x1="1256.9" y1="568.7" x2="1280.6" y2="568.7" stroke="#009fe3" stroke-width="3.3" stroke-linecap="round"/>
<line x1="1268.9" y1="556.8" x2="1268.9" y2="580.4" stroke="#009fe3" stroke-width="3.3" stroke-linecap="round"/>
<path d="M1605.6 583.1 a25.5 31.7 0 1 0 51 0 a25.5 31.7 0 1 0 -51 0Z M1613.9 583.1 a17.2 25.65 0 1 0 34.4 0 a17.2 25.65 0 1 0 -34.4 0Z" fill="#00305a" fill-rule="evenodd"/>
<path d="M1664.97 557.56 C1666.98 551.53 1671 549 1675.68 549 C1681.71 549 1686.12 552.86 1686.12 558.22 C1686.12 563.59 1683.04 567.58 1679.04 570.68 L1664.3 582.3 L1686.8 582.3" fill="none" stroke="#00305a" stroke-width="3.5" stroke-linecap="round" stroke-linejoin="round"/>
<line x1="1693.8" y1="570.6" x2="1702.6" y2="570.6" stroke="#00305a" stroke-width="3.1" stroke-linecap="round"/>
<line x1="1616.1" y1="1030.1" x2="1616.1" y2="1072.9" stroke="#009fe3" stroke-width="6" stroke-linecap="round"/><line x1="1644.3" y1="1030.1" x2="1644.3" y2="1072.9" stroke="#009fe3" stroke-width="6" stroke-linecap="round"/><line x1="1616.1" y1="1050.3" x2="1644.3" y2="1050.3" stroke="#009fe3" stroke-width="5.3" stroke-linecap="butt"/>
<path d="M1656.92 1058.75 C1658.45 1054.14 1661.53 1052.2 1665.1 1052.2 C1669.71 1052.2 1673.08 1055.16 1673.08 1059.26 C1673.08 1063.37 1670.73 1066.43 1667.67 1068.8 L1656.4 1077.7 L1673.6 1077.7" fill="none" stroke="#009fe3" stroke-width="2.9" stroke-linecap="round" stroke-linejoin="round"/>
<path d="M1680.4 1051.95 a19.65 24.85 0 1 0 39.3 0 a19.65 24.85 0 1 0 -39.3 0Z M1686.4 1051.95 a13.65 20.2 0 1 0 27.3 0 a13.65 20.2 0 1 0 -27.3 0Z" fill="#00305a" fill-rule="evenodd"/>
<line x1="1654" y1="500.9" x2="1681.8" y2="500.9" stroke="#009fe3" stroke-width="3.6" stroke-linecap="round"/>
<line x1="1668" y1="487.1" x2="1668" y2="514.9" stroke="#009fe3" stroke-width="3.6" stroke-linecap="round"/>
<circle cx="521.35" cy="490.9" r="20.25" fill="#fff" stroke="#009fe3" stroke-width="2.6"/><circle cx="501.2" cy="480" r="20.2" fill="#fff" stroke="#009fe3" stroke-width="2.6"/>
<circle cx="555.25" cy="584.55" r="41.9" fill="#fff" stroke="#009fe3" stroke-width="2.6"/><circle cx="605.5" cy="627.4" r="41.8" fill="#fff" stroke="#009fe3" stroke-width="2.6"/>
<circle cx="750.05" cy="645.25" r="20.25" fill="#fff" stroke="#009fe3" stroke-width="2.6"/><circle cx="729.45" cy="634.15" r="20.25" fill="#fff" stroke="#009fe3" stroke-width="2.6"/>
<circle cx="511.05" cy="943.3" r="27.85" fill="#fff" stroke="#009fe3" stroke-width="2.6"/><circle cx="552.75" cy="934.35" r="27.8" fill="#fff" stroke="#009fe3" stroke-width="2.6"/>
<circle cx="721.25" cy="890.6" r="41.95" fill="#fff" stroke="#009fe3" stroke-width="2.6"/><circle cx="771.4" cy="933.5" r="41.8" fill="#fff" stroke="#009fe3" stroke-width="2.6"/>
<path d="M525.4 770.75 H669.6 M618.5 719.4 L669.6 770.75 L618.5 822.1" fill="none" stroke="#009fe3" stroke-width="32.8" stroke-linecap="round" stroke-linejoin="round"/>
<path d="M525.4 770.75 H669.6 M618.5 719.4 L669.6 770.75 L618.5 822.1" fill="none" stroke="#fff" stroke-width="27.8" stroke-linecap="round" stroke-linejoin="round"/>
<polygon points="801,577 1045.4,408.8 1058.7,413 1063.9,869 813.9,1145.1 800.3,1141.3" fill="#fff"/><g fill="none" stroke="#cdd1d2" stroke-width="2.3" stroke-linejoin="round"><polyline points="801,577 800.3,1141.3 813.9,1145.1 1063.9,869 1058.7,413 813.7,582 801,577 1045.4,408.8 1058.7,413"/><polyline points="813.7,582 813.9,1145.1"/><ellipse cx="844.5" cy="617.4" rx="17.21" ry="39.73" transform="rotate(13 844.5 617.4)"/><path d="M850.14 578.95 A17.21 39.73 13 0 1 829.51 649.82"/><ellipse cx="844.67" cy="725.85" rx="17.07" ry="40.85" transform="rotate(13 844.67 725.85)"/><path d="M850.59 686.34 A17.07 40.85 13 0 1 829.52 759.24"/><ellipse cx="844.85" cy="834.3" rx="16.92" ry="41.97" transform="rotate(13 844.85 834.3)"/><path d="M851.04 793.73 A16.92 41.97 13 0 1 829.53 868.67"/><ellipse cx="845.03" cy="942.75" rx="16.77" ry="43.1" transform="rotate(13 845.03 942.75)"/><path d="M851.49 901.12 A16.77 43.1 13 0 1 829.55 978.1"/><ellipse cx="845.2" cy="1051.2" rx="16.61" ry="44.22" transform="rotate(13 845.2 1051.2)"/><path d="M851.94 1008.51 A16.61 44.22 13 0 1 829.57 1087.53"/><ellipse cx="899" cy="578.3" rx="16.14" ry="37.96" transform="rotate(11.8 899 578.3)"/><path d="M903.68 541.47 A16.14 37.96 11.8 0 1 885.46 609.59"/><ellipse cx="899.3" cy="681.82" rx="16.04" ry="38.91" transform="rotate(11.8 899.3 681.82)"/><path d="M904.18 644.09 A16.04 38.91 11.8 0 1 885.63 713.95"/><ellipse cx="899.6" cy="785.35" rx="15.94" ry="39.86" transform="rotate(11.8 899.6 785.35)"/><path d="M904.69 746.71 A15.94 39.86 11.8 0 1 885.8 818.3"/><ellipse cx="899.9" cy="888.88" rx="15.83" ry="40.81" transform="rotate(11.8 899.9 888.88)"/><path d="M905.2 849.34 A15.83 40.81 11.8 0 1 885.97 922.65"/><ellipse cx="900.2" cy="992.4" rx="15.72" ry="41.76" transform="rotate(11.8 900.2 992.4)"/><path d="M905.71 951.96 A15.72 41.76 11.8 0 1 886.15 1027"/><ellipse cx="948.8" cy="541.6" rx="15.03" ry="35.91" transform="rotate(10.7 948.8 541.6)"/><path d="M952.6 506.68 A15.03 35.91 10.7 0 1 936.66 571.47"/><ellipse cx="949.35" cy="640.9" rx="14.95" ry="36.83" transform="rotate(10.7 949.35 640.9)"/><path d="M953.33 605.1 A14.95 36.83 10.7 0 1 937.09 671.57"/><ellipse cx="949.9" cy="740.2" rx="14.86" ry="37.75" transform="rotate(10.7 949.9 740.2)"/><path d="M954.06 703.52 A14.86 37.75 10.7 0 1 937.52 771.67"/><ellipse cx="950.45" cy="839.5" rx="14.78" ry="38.67" transform="rotate(10.7 950.45 839.5)"/><path d="M954.79 801.95 A14.78 38.67 10.7 0 1 937.96 871.77"/><ellipse cx="951" cy="938.8" rx="14.69" ry="39.59" transform="rotate(10.7 951 938.8)"/><path d="M955.53 900.37 A14.69 39.59 10.7 0 1 938.4 971.88"/><ellipse cx="994.2" cy="508" rx="14.15" ry="33.97" transform="rotate(9.3 994.2 508)"/><path d="M997 474.9 A14.15 33.97 9.3 0 1 983.44 536.53"/><ellipse cx="995.12" cy="603.25" rx="14.09" ry="34.83" transform="rotate(9.3 995.12 603.25)"/><path d="M998.07 569.32 A14.09 34.83 9.3 0 1 984.26 632.53"/><ellipse cx="996.05" cy="698.5" rx="14.03" ry="35.7" transform="rotate(9.3 996.05 698.5)"/><path d="M999.14 663.74 A14.03 35.7 9.3 0 1 985.09 728.54"/><ellipse cx="996.98" cy="793.75" rx="13.97" ry="36.56" transform="rotate(9.3 996.98 793.75)"/><path d="M1000.21 758.16 A13.97 36.56 9.3 0 1 985.92 824.54"/><ellipse cx="997.9" cy="889" rx="13.91" ry="37.42" transform="rotate(9.3 997.9 889)"/><path d="M1001.28 852.58 A13.91 37.42 9.3 0 1 986.74 920.54"/><ellipse cx="1038" cy="476" rx="12.64" ry="32.37" transform="rotate(8 1038 476)"/><path d="M1040.1 444.43 A12.64 32.37 8 0 1 1028.72 503.46"/><ellipse cx="1038.62" cy="567.88" rx="12.6" ry="33.16" transform="rotate(8 1038.62 567.88)"/><path d="M1040.84 535.53 A12.6 33.16 8 0 1 1029.26 596.03"/><ellipse cx="1039.25" cy="659.75" rx="12.55" ry="33.96" transform="rotate(8 1039.25 659.75)"/><path d="M1041.58 626.64 A12.55 33.96 8 0 1 1029.81 688.6"/><ellipse cx="1039.88" cy="751.62" rx="12.51" ry="34.76" transform="rotate(8 1039.88 751.62)"/><path d="M1042.32 717.75 A12.51 34.76 8 0 1 1030.35 781.17"/><ellipse cx="1040.5" cy="843.5" rx="12.47" ry="35.55" transform="rotate(8 1040.5 843.5)"/><path d="M1043.07 808.86 A12.47 35.55 8 0 1 1030.9 873.75"/></g>
<circle cx="1016" cy="501" r="20.3" fill="#fff" stroke="#a2a6a9" stroke-width="2.3"/><line x1="1003" y1="501" x2="1029" y2="501" stroke="#a2a6a9" stroke-width="3.5" stroke-linecap="round"/>
<circle cx="994.3" cy="567" r="20.3" fill="#fff" stroke="#a2a6a9" stroke-width="2.3"/><line x1="981.3" y1="567" x2="1007.3" y2="567" stroke="#a2a6a9" stroke-width="3.5" stroke-linecap="round"/>
<circle cx="995.3" cy="728" r="26" fill="#fff" stroke="#009fe3" stroke-width="2.6"/>
<circle cx="958.7" cy="854.1" r="26.1" fill="#fff" stroke="#009fe3" stroke-width="2.6"/><line x1="944.8" y1="854.4" x2="972.6" y2="854.4" stroke="#009fe3" stroke-width="3.7" stroke-linecap="round"/><line x1="958.5" y1="839.9" x2="958.5" y2="868.3" stroke="#009fe3" stroke-width="3.7" stroke-linecap="round"/>
<rect x="1441.3" y="401.4" width="15" height="45.1" rx="7.5" ry="7.5" fill="none" stroke="#a2a6a9" stroke-width="2.2"/>
<rect x="1441.3" y="490.1" width="15" height="71.6" rx="7.5" ry="7.5" fill="none" stroke="#a2a6a9" stroke-width="2.2"/>
<rect x="1441.3" y="606.85" width="15" height="71.6" rx="7.5" ry="7.5" fill="none" stroke="#a2a6a9" stroke-width="2.2"/>
<rect x="1441.3" y="723.6" width="15" height="71.6" rx="7.5" ry="7.5" fill="none" stroke="#a2a6a9" stroke-width="2.2"/>
<rect x="1441.3" y="840.35" width="15" height="71.6" rx="7.5" ry="7.5" fill="none" stroke="#a2a6a9" stroke-width="2.2"/>
<rect x="1441.3" y="957.1" width="15" height="71.6" rx="7.5" ry="7.5" fill="none" stroke="#a2a6a9" stroke-width="2.2"/>
<rect x="1441.3" y="1073.9" width="15" height="43.1" rx="7.5" ry="7.5" fill="none" stroke="#a2a6a9" stroke-width="2.2"/>
<circle cx="1246.3" cy="476.6" r="26.1" fill="#fff" stroke="#009fe3" stroke-width="2.6"/><line x1="1232.4" y1="476.9" x2="1260.2" y2="476.9" stroke="#009fe3" stroke-width="3.7" stroke-linecap="round"/><line x1="1246.1" y1="462.4" x2="1246.1" y2="490.8" stroke="#009fe3" stroke-width="3.7" stroke-linecap="round"/>
<circle cx="1105.3" cy="594.9" r="26.1" fill="#fff" stroke="#009fe3" stroke-width="2.6"/><line x1="1091.4" y1="595.2" x2="1119.2" y2="595.2" stroke="#009fe3" stroke-width="3.7" stroke-linecap="round"/><line x1="1105.1" y1="580.7" x2="1105.1" y2="609.1" stroke="#009fe3" stroke-width="3.7" stroke-linecap="round"/>
<circle cx="1347.3" cy="639.2" r="26.1" fill="#fff" stroke="#009fe3" stroke-width="2.6"/><line x1="1333.4" y1="639.5" x2="1361.2" y2="639.5" stroke="#009fe3" stroke-width="3.7" stroke-linecap="round"/><line x1="1347.1" y1="625" x2="1347.1" y2="653.4" stroke="#009fe3" stroke-width="3.7" stroke-linecap="round"/>
<circle cx="1188.4" cy="724.2" r="26.1" fill="#fff" stroke="#009fe3" stroke-width="2.6"/><line x1="1174.5" y1="724.5" x2="1202.3" y2="724.5" stroke="#009fe3" stroke-width="3.7" stroke-linecap="round"/><line x1="1188.2" y1="710" x2="1188.2" y2="738.4" stroke="#009fe3" stroke-width="3.7" stroke-linecap="round"/>
<circle cx="1105.3" cy="800" r="26.1" fill="#fff" stroke="#009fe3" stroke-width="2.6"/><line x1="1091.4" y1="800.3" x2="1119.2" y2="800.3" stroke="#009fe3" stroke-width="3.7" stroke-linecap="round"/><line x1="1105.1" y1="785.8" x2="1105.1" y2="814.2" stroke="#009fe3" stroke-width="3.7" stroke-linecap="round"/>
<circle cx="1227.8" cy="875.5" r="26.1" fill="#fff" stroke="#009fe3" stroke-width="2.6"/><line x1="1213.9" y1="875.8" x2="1241.7" y2="875.8" stroke="#009fe3" stroke-width="3.7" stroke-linecap="round"/><line x1="1227.6" y1="861.3" x2="1227.6" y2="889.7" stroke="#009fe3" stroke-width="3.7" stroke-linecap="round"/>
<circle cx="1397.8" cy="821.6" r="26.1" fill="#fff" stroke="#009fe3" stroke-width="2.6"/><line x1="1383.9" y1="821.9" x2="1411.7" y2="821.9" stroke="#009fe3" stroke-width="3.7" stroke-linecap="round"/><line x1="1397.6" y1="807.4" x2="1397.6" y2="835.8" stroke="#009fe3" stroke-width="3.7" stroke-linecap="round"/>
<circle cx="1081" cy="977.7" r="26.1" fill="#fff" stroke="#009fe3" stroke-width="2.6"/><line x1="1067.1" y1="978" x2="1094.9" y2="978" stroke="#009fe3" stroke-width="3.7" stroke-linecap="round"/><line x1="1080.8" y1="963.5" x2="1080.8" y2="991.9" stroke="#009fe3" stroke-width="3.7" stroke-linecap="round"/>
<circle cx="1254" cy="1019.6" r="26.1" fill="#fff" stroke="#009fe3" stroke-width="2.6"/><line x1="1240.1" y1="1019.9" x2="1267.9" y2="1019.9" stroke="#009fe3" stroke-width="3.7" stroke-linecap="round"/><line x1="1253.8" y1="1005.4" x2="1253.8" y2="1033.8" stroke="#009fe3" stroke-width="3.7" stroke-linecap="round"/>
<circle cx="1506.8" cy="646.2" r="26.1" fill="#fff" stroke="#009fe3" stroke-width="2.6"/><line x1="1492.9" y1="646.5" x2="1520.7" y2="646.5" stroke="#009fe3" stroke-width="3.7" stroke-linecap="round"/><line x1="1506.6" y1="632" x2="1506.6" y2="660.4" stroke="#009fe3" stroke-width="3.7" stroke-linecap="round"/>
<circle cx="1562.2" cy="828.8" r="26.1" fill="#fff" stroke="#009fe3" stroke-width="2.6"/><line x1="1548.3" y1="829.1" x2="1576.1" y2="829.1" stroke="#009fe3" stroke-width="3.7" stroke-linecap="round"/><line x1="1562" y1="814.6" x2="1562" y2="843" stroke="#009fe3" stroke-width="3.7" stroke-linecap="round"/>
<circle cx="1702.6" cy="764.1" r="26.1" fill="#fff" stroke="#009fe3" stroke-width="2.6"/><line x1="1688.7" y1="764.4" x2="1716.5" y2="764.4" stroke="#009fe3" stroke-width="3.7" stroke-linecap="round"/><line x1="1702.4" y1="749.9" x2="1702.4" y2="778.3" stroke="#009fe3" stroke-width="3.7" stroke-linecap="round"/>
<circle cx="1500.8" cy="998.5" r="26.1" fill="#fff" stroke="#009fe3" stroke-width="2.6"/><line x1="1486.9" y1="998.8" x2="1514.7" y2="998.8" stroke="#009fe3" stroke-width="3.7" stroke-linecap="round"/><line x1="1500.6" y1="984.3" x2="1500.6" y2="1012.7" stroke="#009fe3" stroke-width="3.7" stroke-linecap="round"/>
<circle cx="1633.9" cy="461" r="26.1" fill="#fff" stroke="#009fe3" stroke-width="2.6"/><line x1="1620" y1="461.3" x2="1647.8" y2="461.3" stroke="#009fe3" stroke-width="3.7" stroke-linecap="round"/><line x1="1633.7" y1="446.8" x2="1633.7" y2="475.2" stroke="#009fe3" stroke-width="3.7" stroke-linecap="round"/>
<circle cx="1622" cy="680.7" r="26.1" fill="#fff" stroke="#00305a" stroke-width="2.6"/><line x1="1608.95" y1="680.7" x2="1635.05" y2="680.7" stroke="#00305a" stroke-width="3.8" stroke-linecap="round"/>
<circle cx="1804.9" cy="833.1" r="26.1" fill="#fff" stroke="#00305a" stroke-width="2.6"/><line x1="1791.85" y1="833.1" x2="1817.95" y2="833.1" stroke="#00305a" stroke-width="3.8" stroke-linecap="round"/>
<circle cx="1665.7" cy="941.2" r="26.1" fill="#fff" stroke="#00305a" stroke-width="2.6"/><line x1="1652.65" y1="941.2" x2="1678.75" y2="941.2" stroke="#00305a" stroke-width="3.8" stroke-linecap="round"/>
<path d="M2191 438.7 L1931.83 697.88 A67.7 67.7 0 0 0 1928.22 789.72" fill="none" stroke="#00305a" stroke-width="32.3" stroke-linecap="round" stroke-linejoin="round"/><path d="M1928.22 789.72 A67.7 67.7 0 0 0 2027.57 793.62 L2230.3 591.2" fill="none" stroke="#009fe3" stroke-width="32.3" stroke-linecap="butt"/><path d="M2159.2 591.2 L2230.3 591.2 L2230.3 663.1" fill="none" stroke="#009fe3" stroke-width="32.3" stroke-linecap="round" stroke-linejoin="round"/><path d="M2191 438.7 L1931.83 697.88 A67.7 67.7 0 0 0 1928.22 789.72 M2159.2 591.2 L2230.3 591.2 L2230.3 663.1" fill="none" stroke="#fff" stroke-width="27.3" stroke-linecap="round" stroke-linejoin="round"/><path d="M1928.22 789.72 A67.7 67.7 0 0 0 2027.57 793.62 L2230.3 591.2" fill="none" stroke="#fff" stroke-width="27.3" stroke-linecap="butt" stroke-linejoin="round"/>
<polygon points="2133.2,577 1888.8,408.8 1875.5,413 1870.3,869 2120.3,1145.1 2133.9,1141.3" fill="#fff" mask="url(#cmask)"/><g fill="none" stroke="#cdd1d2" stroke-width="2.3" stroke-linejoin="round"><polyline points="2133.2,577 2133.9,1141.3 2120.3,1145.1 1870.3,869 1875.5,413 2120.5,582 2133.2,577 1888.8,408.8 1875.5,413"/><polyline points="2120.5,582 2120.3,1145.1"/><ellipse cx="2089.7" cy="617.4" rx="17.21" ry="39.73" transform="rotate(-13 2089.7 617.4)"/><path d="M2084.06 578.95 A17.21 39.73 -13 0 0 2104.69 649.82"/><ellipse cx="2089.52" cy="725.85" rx="17.07" ry="40.85" transform="rotate(-13 2089.52 725.85)"/><path d="M2083.61 686.34 A17.07 40.85 -13 0 0 2104.68 759.24"/><ellipse cx="2089.35" cy="834.3" rx="16.92" ry="41.97" transform="rotate(-13 2089.35 834.3)"/><path d="M2083.16 793.73 A16.92 41.97 -13 0 0 2104.67 868.67"/><ellipse cx="2089.17" cy="942.75" rx="16.77" ry="43.1" transform="rotate(-13 2089.17 942.75)"/><path d="M2082.71 901.12 A16.77 43.1 -13 0 0 2104.65 978.1"/><ellipse cx="2089" cy="1051.2" rx="16.61" ry="44.22" transform="rotate(-13 2089 1051.2)"/><path d="M2082.26 1008.51 A16.61 44.22 -13 0 0 2104.63 1087.53"/><ellipse cx="2035.2" cy="578.3" rx="16.14" ry="37.96" transform="rotate(-11.8 2035.2 578.3)"/><path d="M2030.52 541.47 A16.14 37.96 -11.8 0 0 2048.74 609.59"/><ellipse cx="2034.9" cy="681.82" rx="16.04" ry="38.91" transform="rotate(-11.8 2034.9 681.82)"/><path d="M2030.02 644.09 A16.04 38.91 -11.8 0 0 2048.57 713.95"/><ellipse cx="2034.6" cy="785.35" rx="15.94" ry="39.86" transform="rotate(-11.8 2034.6 785.35)"/><path d="M2029.51 746.71 A15.94 39.86 -11.8 0 0 2048.4 818.3"/><ellipse cx="2034.3" cy="888.88" rx="15.83" ry="40.81" transform="rotate(-11.8 2034.3 888.88)"/><path d="M2029 849.34 A15.83 40.81 -11.8 0 0 2048.23 922.65"/><ellipse cx="2034" cy="992.4" rx="15.72" ry="41.76" transform="rotate(-11.8 2034 992.4)"/><path d="M2028.49 951.96 A15.72 41.76 -11.8 0 0 2048.05 1027"/><ellipse cx="1985.4" cy="541.6" rx="15.03" ry="35.91" transform="rotate(-10.7 1985.4 541.6)"/><path d="M1981.6 506.68 A15.03 35.91 -10.7 0 0 1997.54 571.47"/><ellipse cx="1984.85" cy="640.9" rx="14.95" ry="36.83" transform="rotate(-10.7 1984.85 640.9)"/><path d="M1980.87 605.1 A14.95 36.83 -10.7 0 0 1997.11 671.57"/><ellipse cx="1984.3" cy="740.2" rx="14.86" ry="37.75" transform="rotate(-10.7 1984.3 740.2)"/><path d="M1980.14 703.52 A14.86 37.75 -10.7 0 0 1996.68 771.67"/><ellipse cx="1983.75" cy="839.5" rx="14.78" ry="38.67" transform="rotate(-10.7 1983.75 839.5)"/><path d="M1979.41 801.95 A14.78 38.67 -10.7 0 0 1996.24 871.77"/><ellipse cx="1983.2" cy="938.8" rx="14.69" ry="39.59" transform="rotate(-10.7 1983.2 938.8)"/><path d="M1978.67 900.37 A14.69 39.59 -10.7 0 0 1995.8 971.88"/><ellipse cx="1940" cy="508" rx="14.15" ry="33.97" transform="rotate(-9.3 1940 508)"/><path d="M1937.2 474.9 A14.15 33.97 -9.3 0 0 1950.76 536.53"/><ellipse cx="1939.07" cy="603.25" rx="14.09" ry="34.83" transform="rotate(-9.3 1939.07 603.25)"/><path d="M1936.13 569.32 A14.09 34.83 -9.3 0 0 1949.94 632.53"/><ellipse cx="1938.15" cy="698.5" rx="14.03" ry="35.7" transform="rotate(-9.3 1938.15 698.5)"/><path d="M1935.06 663.74 A14.03 35.7 -9.3 0 0 1949.11 728.54"/><ellipse cx="1937.22" cy="793.75" rx="13.97" ry="36.56" transform="rotate(-9.3 1937.22 793.75)"/><path d="M1933.99 758.16 A13.97 36.56 -9.3 0 0 1948.28 824.54"/><ellipse cx="1936.3" cy="889" rx="13.91" ry="37.42" transform="rotate(-9.3 1936.3 889)"/><path d="M1932.92 852.58 A13.91 37.42 -9.3 0 0 1947.46 920.54"/><ellipse cx="1896.2" cy="476" rx="12.64" ry="32.37" transform="rotate(-8 1896.2 476)"/><path d="M1894.1 444.43 A12.64 32.37 -8 0 0 1905.48 503.46"/><ellipse cx="1895.57" cy="567.88" rx="12.6" ry="33.16" transform="rotate(-8 1895.57 567.88)"/><path d="M1893.36 535.53 A12.6 33.16 -8 0 0 1904.94 596.03"/><ellipse cx="1894.95" cy="659.75" rx="12.55" ry="33.96" transform="rotate(-8 1894.95 659.75)"/><path d="M1892.62 626.64 A12.55 33.96 -8 0 0 1904.39 688.6"/><ellipse cx="1894.32" cy="751.62" rx="12.51" ry="34.76" transform="rotate(-8 1894.32 751.62)"/><path d="M1891.88 717.75 A12.51 34.76 -8 0 0 1903.85 781.17"/><ellipse cx="1893.7" cy="843.5" rx="12.47" ry="35.55" transform="rotate(-8 1893.7 843.5)"/><path d="M1891.13 808.86 A12.47 35.55 -8 0 0 1903.3 873.75"/></g>
<g mask="url(#clipC)"><path d="M2191 438.7 L1931.83 697.88 A67.7 67.7 0 0 0 1928.22 789.72" fill="none" stroke="#00305a" stroke-width="32.3" stroke-linecap="round" stroke-linejoin="round"/><path d="M1928.22 789.72 A67.7 67.7 0 0 0 2027.57 793.62 L2230.3 591.2" fill="none" stroke="#009fe3" stroke-width="32.3" stroke-linecap="butt"/><path d="M2159.2 591.2 L2230.3 591.2 L2230.3 663.1" fill="none" stroke="#009fe3" stroke-width="32.3" stroke-linecap="round" stroke-linejoin="round"/><path d="M2191 438.7 L1931.83 697.88 A67.7 67.7 0 0 0 1928.22 789.72 M2159.2 591.2 L2230.3 591.2 L2230.3 663.1" fill="none" stroke="#fff" stroke-width="27.3" stroke-linecap="round" stroke-linejoin="round"/><path d="M1928.22 789.72 A67.7 67.7 0 0 0 2027.57 793.62 L2230.3 591.2" fill="none" stroke="#fff" stroke-width="27.3" stroke-linecap="butt" stroke-linejoin="round"/></g>
<circle cx="1829.4" cy="491.8" r="20.3" fill="#fff" stroke="#a2a6a9" stroke-width="2.3"/><line x1="1816.4" y1="491.8" x2="1842.4" y2="491.8" stroke="#a2a6a9" stroke-width="3.5" stroke-linecap="round"/>
<circle cx="1846.9" cy="521.5" r="34" fill="#fff" stroke="#00305a" stroke-width="2.6"/>
<circle cx="1864.1" cy="550.7" r="20.3" fill="#fff" stroke="#a2a6a9" stroke-width="2.3"/><line x1="1851.1" y1="550.7" x2="1877.1" y2="550.7" stroke="#a2a6a9" stroke-width="3.5" stroke-linecap="round"/>
<circle cx="1922.8" cy="522.6" r="20.3" fill="#fff" stroke="#a2a6a9" stroke-width="2.3"/><line x1="1909.8" y1="522.6" x2="1935.8" y2="522.6" stroke="#a2a6a9" stroke-width="3.5" stroke-linecap="round"/>
<circle cx="1829.6" cy="609.8" r="20.3" fill="#fff" stroke="#a2a6a9" stroke-width="2.3"/><line x1="1816.6" y1="609.8" x2="1842.6" y2="609.8" stroke="#a2a6a9" stroke-width="3.5" stroke-linecap="round"/>
<circle cx="1790.1" cy="987.15" r="19.7" fill="#fff" stroke="#009fe3" stroke-width="2.6"/><circle cx="1807.75" cy="1016.8" r="33.75" fill="#fff" stroke="#00305a" stroke-width="2.5"/><circle cx="1825.1" cy="1046" r="20.05" fill="#fff" stroke="#009fe3" stroke-width="2.6"/>
<circle cx="2012.55" cy="974.3" r="19.9" fill="#fff" stroke="#009fe3" stroke-width="2.6"/><circle cx="1995" cy="1004.25" r="33.75" fill="#fff" stroke="#00305a" stroke-width="2.5"/><circle cx="1977.7" cy="1033" r="20.15" fill="#fff" stroke="#009fe3" stroke-width="2.6"/>
<circle cx="2253.6" cy="510.7" r="27.65" fill="#fff" stroke="#00305a" stroke-width="2.6"/><circle cx="2295" cy="501.7" r="27.65" fill="#fff" stroke="#00305a" stroke-width="2.6"/>
<circle cx="2456.5" cy="567.3" r="20.2" fill="#fff" stroke="#00305a" stroke-width="2.6"/><circle cx="2436.35" cy="556.35" r="20.25" fill="#fff" stroke="#00305a" stroke-width="2.6"/>
<circle cx="2338.35" cy="681" r="27.65" fill="#fff" stroke="#00305a" stroke-width="2.6"/><circle cx="2379.8" cy="672" r="27.65" fill="#fff" stroke="#00305a" stroke-width="2.6"/>
<circle cx="2294.35" cy="827.75" r="41.95" fill="#fff" stroke="#00305a" stroke-width="2.6"/><circle cx="2344.75" cy="870.75" r="41.95" fill="#fff" stroke="#00305a" stroke-width="2.6"/>
<rect x="725.5" y="1172.5" width="186" height="66.2" rx="5.5" ry="5.5" fill="none" stroke="#cdd1d2" stroke-width="2.1"/>
<rect x="1320.2" y="1172.5" width="252.5" height="66.2" rx="5.5" ry="5.5" fill="none" stroke="#cdd1d2" stroke-width="2.1"/>
<rect x="1982.2" y="1172.5" width="213.2" height="66.2" rx="5.5" ry="5.5" fill="none" stroke="#cdd1d2" stroke-width="2.1"/>
<g font-family="Liberation Sans, sans-serif">
<text x="757.2" y="1218.1" font-size="44.5" fill="#2b2a21" stroke="#fff" stroke-width="0.45" textLength="121.7" lengthAdjust="spacingAndGlyphs">Anode</text>
<text x="1346.7" y="1220.5" font-size="44.5" fill="#2b2a21" stroke="#fff" stroke-width="0.45" textLength="207.2" lengthAdjust="spacingAndGlyphs">Electrolyte</text>
<text x="2007.2" y="1220.6" font-size="44.5" fill="#2b2a21" stroke="#fff" stroke-width="0.45" textLength="164.5" lengthAdjust="spacingAndGlyphs">Cathode</text>
</g>
</svg>
</body></html>
